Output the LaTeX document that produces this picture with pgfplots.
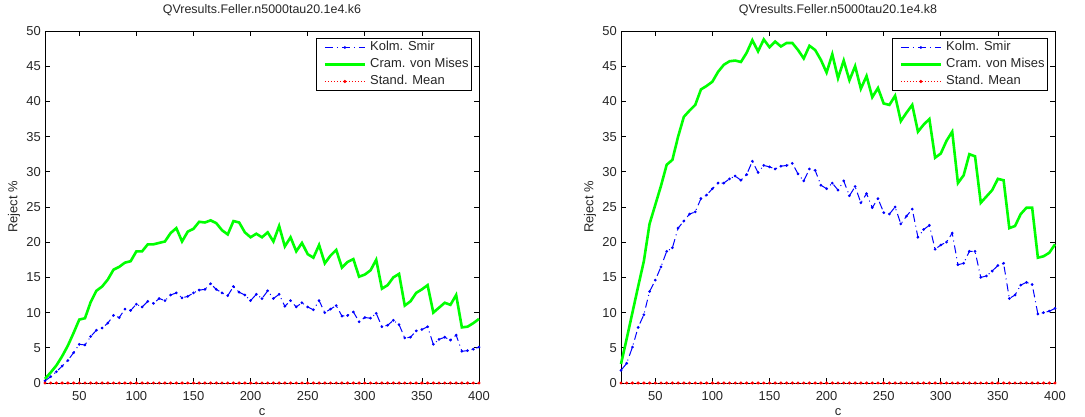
\documentclass[border=0pt]{standalone}
\usepackage{pgfplots}
\usepackage{pgfplotstable}
\pgfplotsset{compat=1.18}
\usepackage{fontspec}
\setmainfont{Liberation Sans}
\definecolor{mgreen}{rgb}{0,1,0}
\definecolor{mblue}{rgb}{0,0,1}
\definecolor{mred}{rgb}{1,0,0}

\pgfplotstableread{
c ks cvm sm
20 0.3 0.6 0
25 0.9 1.5 0
30 1.6 2.5 0
35 2.4 3.8 0
40 3.2 5.3 0
45 4.3 7.1 0
50 5.5 9.0 0
55 5.4 9.2 0
60 6.6 11.5 0
65 7.5 13.1 0
70 7.8 13.7 0
75 8.5 14.7 0
80 9.6 16.1 0
85 9.3 16.5 0
90 10.5 17.1 0
95 10.3 17.3 0
100 11.2 18.7 0
105 10.8 18.7 0
110 11.6 19.7 0
115 11.3 19.7 0
120 12.0 19.9 0
125 11.7 20.1 0
130 12.5 21.3 0
135 12.8 22.0 0
140 12.1 20.1 0
145 12.3 21.5 0
150 12.8 21.9 0
155 13.2 22.9 0
160 13.3 22.8 0
165 14.1 23.1 0
170 13.3 22.7 0
175 12.8 21.7 0
180 12.4 21.1 0
185 13.7 23.0 0
190 12.9 22.8 0
195 12.5 21.4 0
200 11.7 20.7 0
205 12.6 21.2 0
210 12.0 20.7 0
215 13.1 21.4 0
220 12.0 20.1 0
225 12.6 22.3 0
230 10.9 19.4 0
235 11.7 20.7 0
240 10.8 18.7 0
245 11.4 19.9 0
250 10.8 18.3 0
255 10.4 17.8 0
260 11.7 19.6 0
265 10.0 17.0 0
270 10.5 18.1 0
275 11.0 18.9 0
280 9.5 16.4 0
285 9.6 17.2 0
290 10.1 17.6 0
295 8.7 15.1 0
300 9.3 15.4 0
305 9.2 16.0 0
310 9.9 17.5 0
315 8.0 13.4 0
320 8.2 13.9 0
325 8.9 15.0 0
330 8.3 15.5 0
335 6.4 11.0 0
340 6.5 11.6 0
345 7.4 12.8 0
350 7.6 13.3 0
355 8.0 13.9 0
360 5.5 10.0 0
365 6.2 10.7 0
370 6.5 11.4 0
375 6.1 11.1 0
380 6.8 12.5 0
385 4.5 7.9 0
390 4.6 8.0 0
395 4.8 8.5 0
400 5.1 9.1 0
}\tableL

\pgfplotstableread{
c ks cvm sm
20 1.8 2.7 0
25 2.8 6.3 0
30 5.1 10.0 0
35 7.9 13.7 0
40 9.7 17.3 0
45 13.0 22.6 0
50 14.6 25.3 0
55 16.5 28.0 0
60 18.7 31.0 0
65 19.2 31.7 0
70 22.0 35.0 0
75 23.0 37.8 0
80 24.0 38.7 0
85 24.3 39.5 0
90 26.2 41.7 0
95 26.7 42.2 0
100 27.6 42.8 0
105 28.4 44.2 0
110 28.4 45.2 0
115 29.0 45.7 0
120 29.4 45.8 0
125 28.8 45.6 0
130 29.6 46.9 0
135 31.5 48.7 0
140 29.9 47.1 0
145 30.9 48.8 0
150 30.7 47.7 0
155 30.4 48.5 0
160 30.8 47.8 0
165 30.9 48.3 0
170 31.2 48.3 0
175 29.7 47.3 0
180 28.7 46.1 0
185 30.4 47.9 0
190 30.2 47.3 0
195 28.1 45.9 0
200 27.6 44.1 0
205 28.4 46.7 0
210 27.4 43.3 0
215 28.7 45.8 0
220 26.6 43.0 0
225 27.9 45.0 0
230 25.6 41.8 0
235 26.9 43.6 0
240 24.9 40.6 0
245 26.2 41.9 0
250 24.2 39.7 0
255 24.0 39.5 0
260 25.0 40.8 0
265 22.6 37.2 0
270 23.7 38.4 0
275 24.7 39.5 0
280 20.7 35.7 0
285 21.8 36.7 0
290 22.4 37.5 0
295 19.0 32.0 0
300 19.6 32.6 0
305 20.0 34.4 0
310 21.3 35.7 0
315 16.8 28.4 0
320 17.0 29.5 0
325 18.7 32.5 0
330 18.7 32.2 0
335 15.0 25.6 0
340 15.2 26.5 0
345 15.9 27.4 0
350 16.7 29.0 0
355 17.0 28.8 0
360 12.0 22.0 0
365 12.5 22.3 0
370 13.9 24.0 0
375 14.3 24.9 0
380 14.0 24.9 0
385 9.8 17.8 0
390 10.0 18.0 0
395 10.2 18.5 0
400 10.6 19.7 0
}\tableR

\pgfplotsset{
  mstyle/.style={
    scale only axis,
    width=434bp, height=352bp,
    xmin=20, xmax=400, ymin=0, ymax=50,
    xtick={50,100,...,400},
    ytick={0,5,...,50},
    clip=false,
    axis line style={black, line width=0.8bp},
    tick style={black, line width=0.6bp},
    major tick length=5bp,
    tick align=inside,
    /pgf/number format/assume math mode=true,
    /pgf/number format/1000 sep={},
    tick label style={font=\fontsize{13}{15}\selectfont, text=black!85},
    xticklabel style={anchor=center, inner sep=0pt, yshift=-13bp},
    yticklabel style={anchor=east, inner sep=0pt, xshift=-4bp},
    label style={font=\fontsize{13}{15}\selectfont, text=black!85},
    title style={font=\fontsize{12.5}{15}\selectfont, text=black!85, at={(axis description cs:0.5,1.0426)}, anchor=center},
    xlabel={c},
    ylabel={Reject \%},
    x label style={at={(axis description cs:0.5,-0.0824)}, anchor=center},
    y label style={at={(axis description cs:-0.0714,0.5)}, anchor=center},
    legend cell align=left,
    legend image code/.code={
      \path (-4bp,0bp);
      \draw[mark repeat=2,mark phase=2,##1] plot coordinates {(0bp,0bp) (20bp,0bp) (40bp,0bp)};
    },
    legend style={
      at={(axis description cs:1,1)}, anchor=north east,
      xshift=-7bp, yshift=-7bp,
      draw=black, line width=0.9bp,
      font=\fontsize{13}{15}\selectfont,
      inner sep=3bp,
      row sep=5bp,
      /tikz/column sep=4bp,
      nodes={inner sep=0pt, text height=9.5bp, text depth=2.5bp, text=black!85},
    },
  },
  ksstyle/.style={mblue, line width=1bp, dash pattern=on 8bp off 4bp on 1bp off 4bp, mark=*, mark size=0.8bp, mark options={solid}},
  cvmstyle/.style={mgreen, line width=2.6bp},
  smstyle/.style={mred, line width=1bp, dash pattern=on 1bp off 2bp, mark=*, mark size=1bp, mark options={solid}},
}

\begin{document}
\begin{tikzpicture}
\useasboundingbox (-45bp,-34bp) rectangle (1040bp,383bp);
\begin{axis}[mstyle, at={(0bp,0bp)}, anchor=south west,
  title={QVresults.Feller.n5000tau20.1e4.k6}]
\addplot[ksstyle] table[x=c,y=ks] {\tableL};
\addlegendentry{Kolm. Smir}
\addplot[cvmstyle] table[x=c,y=cvm] {\tableL};
\addlegendentry{Cram. von Mises}
\addplot[smstyle] table[x=c,y=sm] {\tableL};
\addlegendentry{Stand. Mean}
\end{axis}
\begin{axis}[mstyle, at={(576bp,0bp)}, anchor=south west,
  title={QVresults.Feller.n5000tau20.1e4.k8}]
\addplot[ksstyle] table[x=c,y=ks] {\tableR};
\addlegendentry{Kolm. Smir}
\addplot[cvmstyle] table[x=c,y=cvm] {\tableR};
\addlegendentry{Cram. von Mises}
\addplot[smstyle] table[x=c,y=sm] {\tableR};
\addlegendentry{Stand. Mean}
\end{axis}
\end{tikzpicture}
\end{document}
